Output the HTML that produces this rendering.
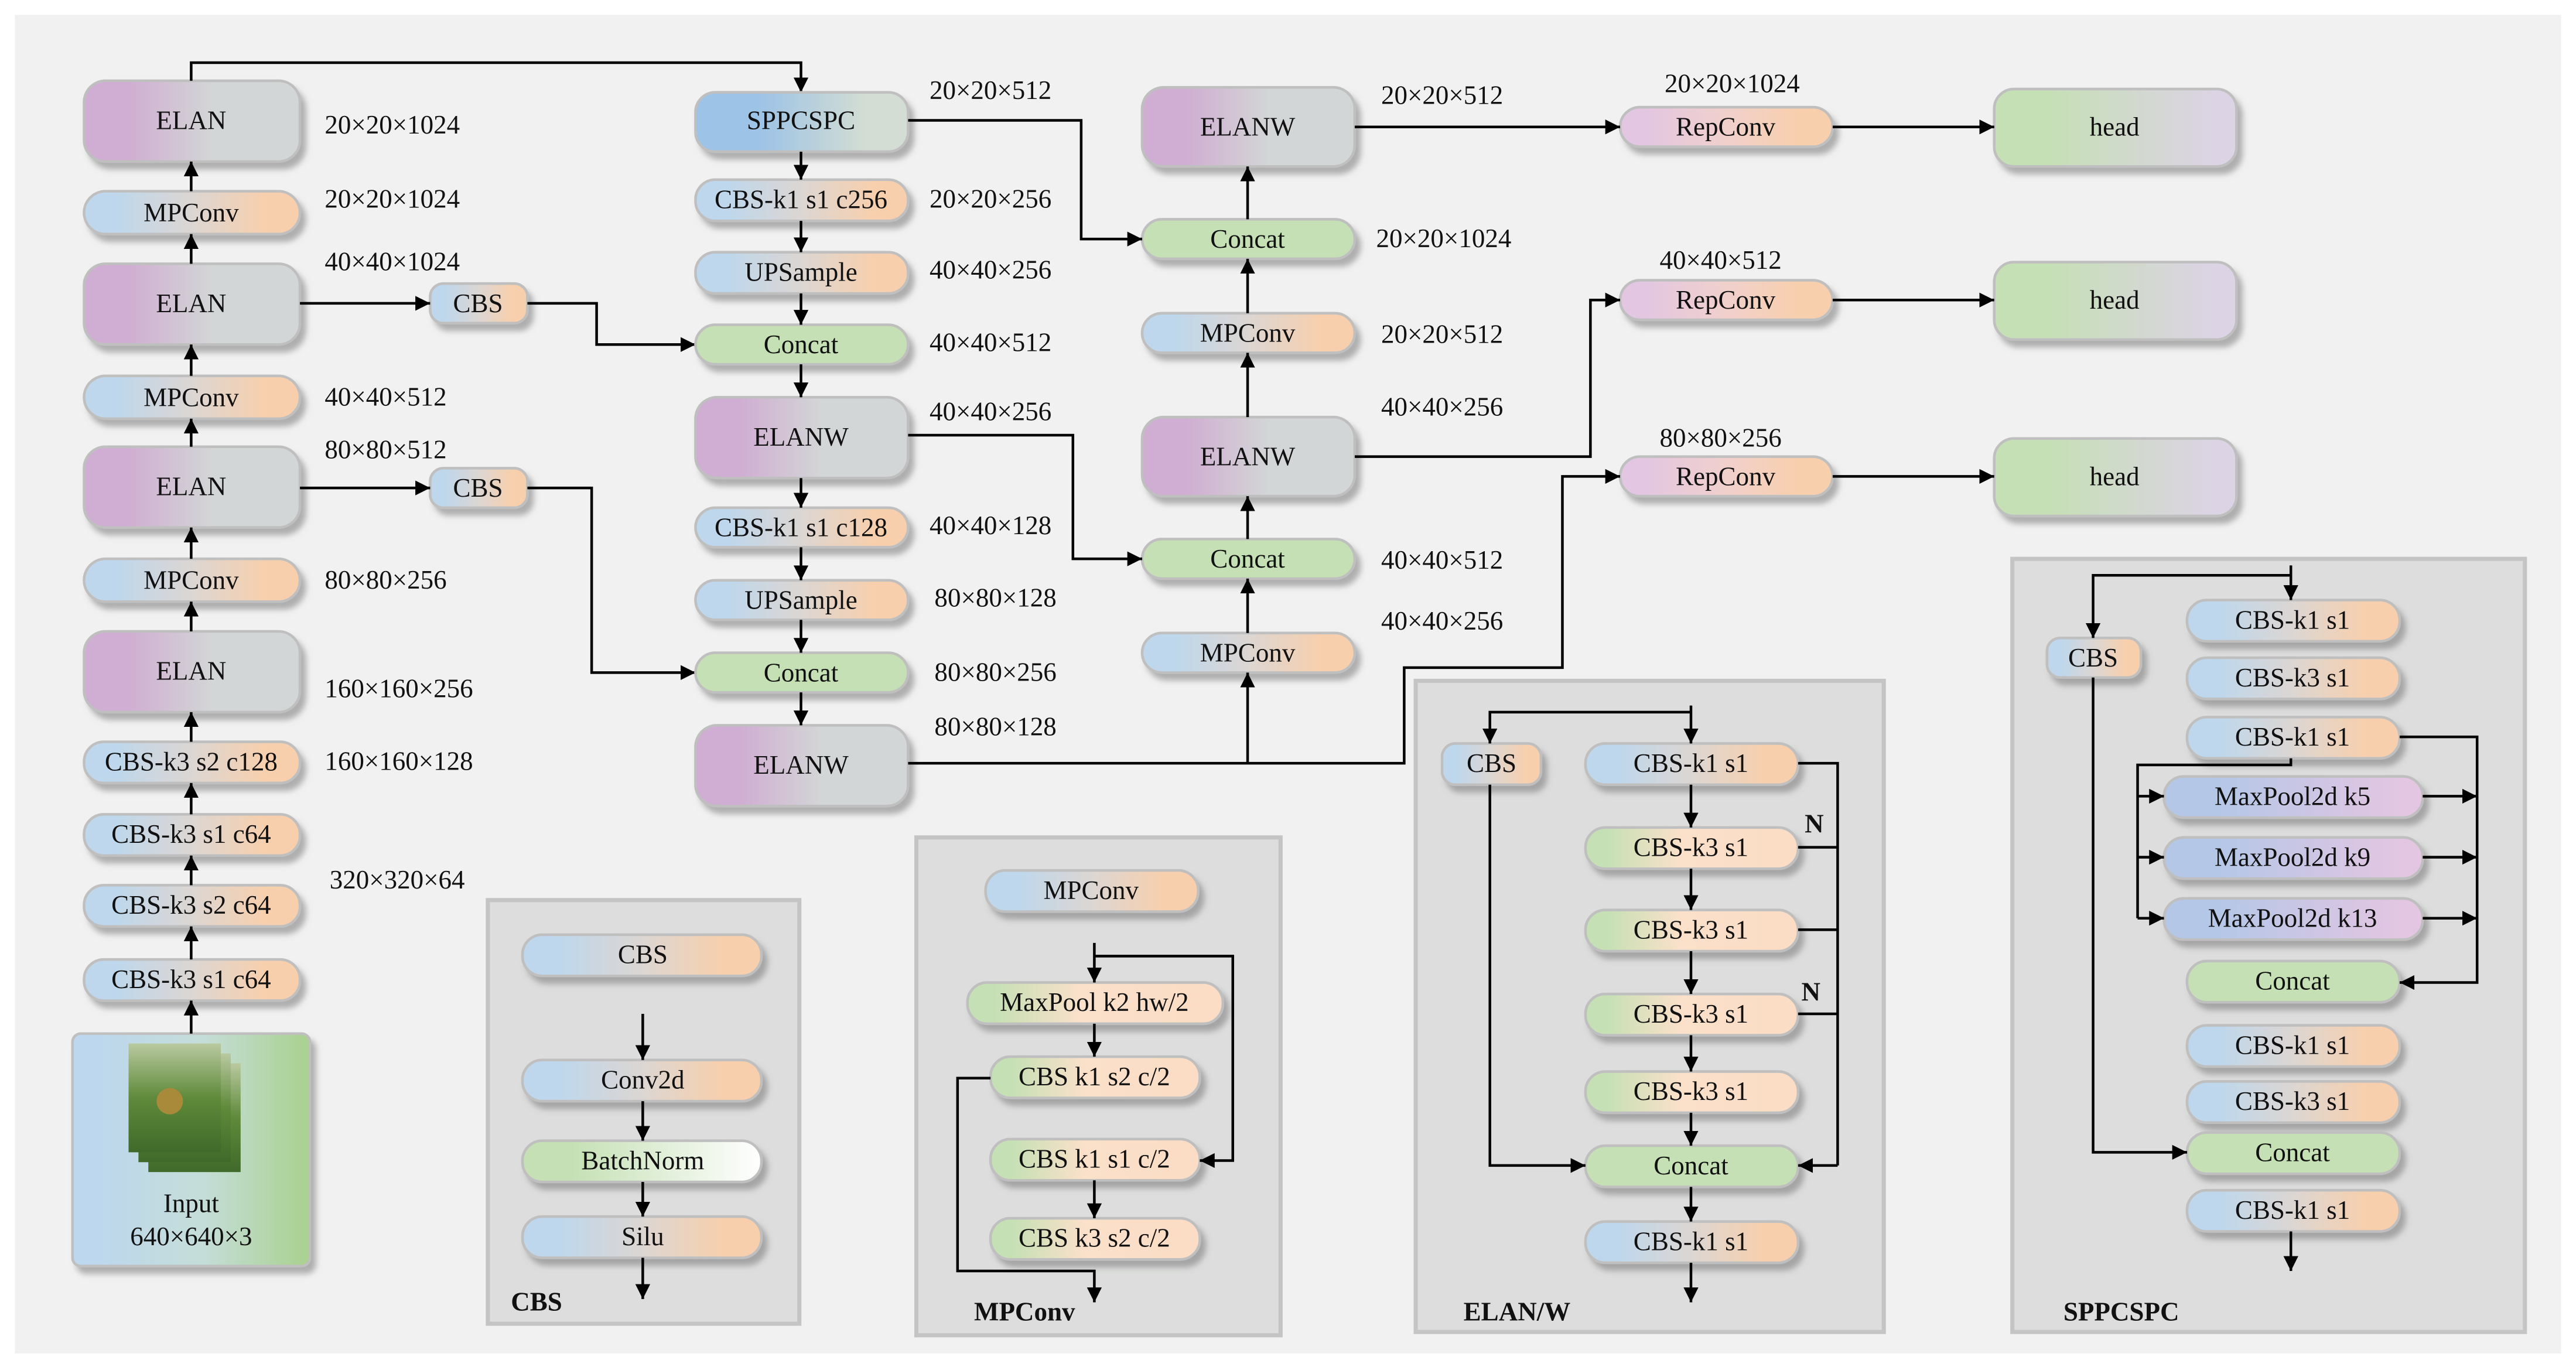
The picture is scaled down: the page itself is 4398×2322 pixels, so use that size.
<!DOCTYPE html>
<html><head><meta charset="utf-8"><style>
html,body{margin:0;padding:0;background:#fff;width:4398px;height:2322px;overflow:hidden}
svg{display:block}
text{font-family:"Liberation Serif",serif;font-size:16px;fill:#111}
.n text{text-anchor:middle;dominant-baseline:central}
.n rect{stroke:#bfbfbf;stroke-width:1.6;filter:url(#sh)}
.l{font-size:15px}
.b{font-weight:bold;font-size:16px}
.w{fill:none;stroke:#000;stroke-width:1.6}
.a{fill:none;stroke:#000;stroke-width:1.6;marker-end:url(#ar)}
.p{fill:#dcdddc;stroke:#c4c4c4;stroke-width:2.5}
</style></head><body>
<svg width="4398" height="2322" viewBox="0 0 1563 825" preserveAspectRatio="none" xmlns="http://www.w3.org/2000/svg">
<defs>
<filter id="sh" x="-20%" y="-30%" width="150%" height="180%"><feDropShadow dx="3" dy="4" stdDeviation="1.8" flood-color="#777" flood-opacity="0.55"/></filter>
<marker id="ar" viewBox="0 0 10 10" refX="10" refY="5" markerWidth="9" markerHeight="9" markerUnits="userSpaceOnUse" orient="auto"><path d="M0,0L10,5L0,10z" fill="#000"/></marker>
<linearGradient id="gE"><stop offset="0.2" stop-color="#d0add2"/><stop offset="0.6" stop-color="#d3d6d6"/></linearGradient>
<linearGradient id="gC"><stop offset="0.15" stop-color="#bed7ec"/><stop offset="0.5" stop-color="#dcd6d2"/><stop offset="0.85" stop-color="#f8cfac"/></linearGradient>
<linearGradient id="gR"><stop offset="0.1" stop-color="#e2c6e2"/><stop offset="0.5" stop-color="#f1d0cc"/><stop offset="0.85" stop-color="#f8cfac"/></linearGradient>
<linearGradient id="gS"><stop offset="0.3" stop-color="#9dc3e6"/><stop offset="0.8" stop-color="#d3ddd3"/></linearGradient>
<linearGradient id="gG"><stop offset="0" stop-color="#c5e0b4"/><stop offset="1" stop-color="#c5e0b4"/></linearGradient>
<linearGradient id="gGP"><stop offset="0.1" stop-color="#c5e0b4"/><stop offset="0.45" stop-color="#fbe0ca"/><stop offset="1" stop-color="#fbdcc4"/></linearGradient>
<linearGradient id="gM"><stop offset="0.2" stop-color="#b4c7e7"/><stop offset="0.9" stop-color="#e2c6e2"/></linearGradient>
<linearGradient id="gH"><stop offset="0.2" stop-color="#c5e0b4"/><stop offset="0.9" stop-color="#dcd3e4"/></linearGradient>
<linearGradient id="gB"><stop offset="0.2" stop-color="#c5e0b4"/><stop offset="1" stop-color="#ffffff"/></linearGradient>
<linearGradient id="gI"><stop offset="0.1" stop-color="#bdd7ee"/><stop offset="0.55" stop-color="#c5ddd8"/><stop offset="1" stop-color="#a9d18e"/></linearGradient>
<linearGradient id="gT" x1="0" y1="0" x2="0" y2="1"><stop offset="0" stop-color="#b9c9a0"/><stop offset="0.5" stop-color="#5f8a3a"/><stop offset="1" stop-color="#3f6a2a"/></linearGradient>
</defs>
<rect x="9" y="9" width="1545" height="812" fill="#f1f1f1"/>

<!-- left column -->
<g class="n">
<rect x="51" y="49" width="131" height="49" rx="13" fill="url(#gE)"/><text x="116" y="73">ELAN</text>
<rect x="51" y="116" width="131" height="26" rx="13" fill="url(#gC)"/><text x="116" y="129">MPConv</text>
<rect x="51" y="160" width="131" height="49" rx="13" fill="url(#gE)"/><text x="116" y="184">ELAN</text>
<rect x="51" y="228" width="131" height="26" rx="13" fill="url(#gC)"/><text x="116" y="241">MPConv</text>
<rect x="51" y="271" width="131" height="49" rx="13" fill="url(#gE)"/><text x="116" y="295">ELAN</text>
<rect x="51" y="339" width="131" height="26" rx="13" fill="url(#gC)"/><text x="116" y="352">MPConv</text>
<rect x="51" y="383" width="131" height="49" rx="13" fill="url(#gE)"/><text x="116" y="407">ELAN</text>
<rect x="51" y="450" width="131" height="25" rx="12" fill="url(#gC)"/><text x="116" y="462">CBS-k3 s2 c128</text>
<rect x="51" y="494" width="131" height="25" rx="12" fill="url(#gC)"/><text x="116" y="506">CBS-k3 s1 c64</text>
<rect x="51" y="537" width="131" height="25" rx="12" fill="url(#gC)"/><text x="116" y="549">CBS-k3 s2 c64</text>
<rect x="51" y="582" width="131" height="25" rx="12" fill="url(#gC)"/><text x="116" y="594">CBS-k3 s1 c64</text>
<rect x="44" y="627" width="144" height="141" rx="5" fill="url(#gI)"/><text x="116" y="730">Input</text><text x="116" y="750">640×640×3</text>
<rect x="261" y="172" width="59" height="24" rx="8" fill="url(#gC)"/><text x="290" y="184">CBS</text>
<rect x="261" y="284" width="59" height="24" rx="8" fill="url(#gC)"/><text x="290" y="296">CBS</text>
</g>
<rect x="90" y="645" width="56" height="66" fill="url(#gT)"/>
<rect x="84" y="639" width="56" height="66" fill="url(#gT)"/>
<rect x="78" y="633" width="56" height="66" fill="url(#gT)"/>
<circle cx="103" cy="668" r="8" fill="#a88a3a"/>
<path class="a" d="M116,116V98"/><path class="a" d="M116,160V142"/><path class="a" d="M116,228V209"/><path class="a" d="M116,271V254"/>
<path class="a" d="M116,339V320"/><path class="a" d="M116,383V365"/><path class="a" d="M116,450V432"/><path class="a" d="M116,494V475"/>
<path class="a" d="M116,537V519"/><path class="a" d="M116,582V562"/><path class="a" d="M116,627V607"/>
<path class="a" d="M116,49V38H486V56"/><path class="a" d="M182,184H261"/><path class="a" d="M182,296H261"/>
<path class="a" d="M320,184H362V209H422"/><path class="a" d="M320,296H359V408H422"/>
<g class="l">
<text x="197" y="81">20×20×1024</text><text x="197" y="126">20×20×1024</text><text x="197" y="164">40×40×1024</text>
<text x="197" y="246">40×40×512</text><text x="197" y="278">80×80×512</text><text x="197" y="357">80×80×256</text>
<text x="197" y="423">160×160×256</text><text x="197" y="467">160×160×128</text><text x="200" y="539">320×320×64</text>
</g>

<!-- middle column -->
<g class="n">
<rect x="422" y="56" width="129" height="36" rx="12" fill="url(#gS)"/><text x="486" y="73">SPPCSPC</text>
<rect x="422" y="109" width="129" height="25" rx="12" fill="url(#gC)"/><text x="486" y="121">CBS-k1 s1 c256</text>
<rect x="422" y="153" width="129" height="25" rx="12" fill="url(#gC)"/><text x="486" y="165">UPSample</text>
<rect x="422" y="197" width="129" height="24" rx="12" fill="url(#gG)"/><text x="486" y="209">Concat</text>
<rect x="422" y="241" width="129" height="49" rx="13" fill="url(#gE)"/><text x="486" y="265">ELANW</text>
<rect x="422" y="308" width="129" height="24" rx="12" fill="url(#gC)"/><text x="486" y="320">CBS-k1 s1 c128</text>
<rect x="422" y="352" width="129" height="24" rx="12" fill="url(#gC)"/><text x="486" y="364">UPSample</text>
<rect x="422" y="396" width="129" height="24" rx="12" fill="url(#gG)"/><text x="486" y="408">Concat</text>
<rect x="422" y="440" width="129" height="49" rx="13" fill="url(#gE)"/><text x="486" y="464">ELANW</text>
</g>
<path class="a" d="M486,92V109"/><path class="a" d="M486,134V153"/><path class="a" d="M486,178V197"/><path class="a" d="M486,221V241"/>
<path class="a" d="M486,290V308"/><path class="a" d="M486,332V352"/><path class="a" d="M486,376V396"/><path class="a" d="M486,420V440"/>
<g class="l">
<text x="564" y="60">20×20×512</text><text x="564" y="126">20×20×256</text><text x="564" y="169">40×40×256</text>
<text x="564" y="213">40×40×512</text><text x="564" y="255">40×40×256</text><text x="564" y="324">40×40×128</text>
<text x="567" y="368">80×80×128</text><text x="567" y="413">80×80×256</text><text x="567" y="446">80×80×128</text>
</g>

<!-- third column -->
<g class="n">
<rect x="693" y="53" width="129" height="48" rx="13" fill="url(#gE)"/><text x="757" y="77">ELANW</text>
<rect x="693" y="133" width="129" height="24" rx="12" fill="url(#gG)"/><text x="757" y="145">Concat</text>
<rect x="693" y="190" width="129" height="24" rx="12" fill="url(#gC)"/><text x="757" y="202">MPConv</text>
<rect x="693" y="253" width="129" height="48" rx="13" fill="url(#gE)"/><text x="757" y="277">ELANW</text>
<rect x="693" y="327" width="129" height="24" rx="12" fill="url(#gG)"/><text x="757" y="339">Concat</text>
<rect x="693" y="384" width="129" height="24" rx="12" fill="url(#gC)"/><text x="757" y="396">MPConv</text>
<rect x="983" y="65" width="129" height="24" rx="12" fill="url(#gR)"/><text x="1047" y="77">RepConv</text>
<rect x="983" y="170" width="129" height="24" rx="12" fill="url(#gR)"/><text x="1047" y="182">RepConv</text>
<rect x="983" y="277" width="129" height="24" rx="12" fill="url(#gR)"/><text x="1047" y="289">RepConv</text>
<rect x="1210" y="54" width="147" height="47" rx="12" fill="url(#gH)"/><text x="1283" y="77">head</text>
<rect x="1210" y="159" width="147" height="47" rx="12" fill="url(#gH)"/><text x="1283" y="182">head</text>
<rect x="1210" y="266" width="147" height="47" rx="12" fill="url(#gH)"/><text x="1283" y="289">head</text>
</g>
<path class="a" d="M551,73H656V145H693"/><path class="a" d="M551,264H651V339H693"/>
<path class="a" d="M757,463V408"/><path class="a" d="M757,384V351"/><path class="a" d="M757,327V301"/>
<path class="a" d="M757,253V214"/><path class="a" d="M757,190V157"/><path class="a" d="M757,133V101"/>
<path class="a" d="M551,463H852V405H948V289H983"/><path class="a" d="M822,77H983"/><path class="a" d="M822,277H965V182H983"/>
<path class="a" d="M1112,77H1210"/><path class="a" d="M1112,182H1210"/><path class="a" d="M1112,289H1210"/>
<g class="l">
<text x="838" y="63">20×20×512</text><text x="835" y="150">20×20×1024</text><text x="838" y="208">20×20×512</text>
<text x="838" y="252">40×40×256</text><text x="838" y="345">40×40×512</text><text x="838" y="382">40×40×256</text>
<text x="1010" y="56">20×20×1024</text><text x="1007" y="163">40×40×512</text><text x="1007" y="271">80×80×256</text>
</g>

<!-- CBS panel -->
<rect class="p" x="296" y="546" width="189" height="257"/>
<g class="n">
<rect x="317" y="567" width="145" height="25" rx="12" fill="url(#gC)"/><text x="390" y="579">CBS</text>
<rect x="317" y="643" width="145" height="25" rx="12" fill="url(#gC)"/><text x="390" y="655">Conv2d</text>
<rect x="317" y="692" width="145" height="25" rx="12" fill="url(#gB)"/><text x="390" y="704">BatchNorm</text>
<rect x="317" y="738" width="145" height="25" rx="12" fill="url(#gC)"/><text x="390" y="750">Silu</text>
</g>
<path class="a" d="M390,615V643"/><path class="a" d="M390,668V692"/><path class="a" d="M390,717V738"/><path class="a" d="M390,763V788"/>
<text class="b" x="310" y="795">CBS</text>

<!-- MPConv panel -->
<rect class="p" x="556" y="508" width="221" height="302"/>
<g class="n">
<rect x="598" y="528" width="129" height="25" rx="12" fill="url(#gC)"/><text x="662" y="540">MPConv</text>
<rect x="587" y="596" width="155" height="25" rx="12" fill="url(#gGP)"/><text x="664" y="608">MaxPool k2 hw/2</text>
<rect x="601" y="641" width="127" height="25" rx="12" fill="url(#gGP)"/><text x="664" y="653">CBS k1 s2 c/2</text>
<rect x="601" y="691" width="127" height="25" rx="12" fill="url(#gGP)"/><text x="664" y="703">CBS k1 s1 c/2</text>
<rect x="601" y="739" width="127" height="25" rx="12" fill="url(#gGP)"/><text x="664" y="751">CBS k3 s2 c/2</text>
</g>
<path class="a" d="M664,572V596"/><path class="a" d="M664,621V641"/><path class="a" d="M664,716V739"/>
<path class="a" d="M664,580H748V704H728"/><path class="a" d="M601,654H581V771H664V790"/>
<text class="b" x="591" y="801">MPConv</text>

<!-- ELAN/W panel -->
<rect class="p" x="859" y="413" width="284" height="395"/>
<g class="n">
<rect x="875" y="451" width="60" height="25" rx="8" fill="url(#gC)"/><text x="905" y="463">CBS</text>
<rect x="962" y="451" width="129" height="25" rx="12" fill="url(#gC)"/><text x="1026" y="463">CBS-k1 s1</text>
<rect x="962" y="502" width="129" height="25" rx="12" fill="url(#gGP)"/><text x="1026" y="514">CBS-k3 s1</text>
<rect x="962" y="552" width="129" height="25" rx="12" fill="url(#gGP)"/><text x="1026" y="564">CBS-k3 s1</text>
<rect x="962" y="603" width="129" height="25" rx="12" fill="url(#gGP)"/><text x="1026" y="615">CBS-k3 s1</text>
<rect x="962" y="650" width="129" height="25" rx="12" fill="url(#gGP)"/><text x="1026" y="662">CBS-k3 s1</text>
<rect x="962" y="695" width="129" height="25" rx="12" fill="url(#gG)"/><text x="1026" y="707">Concat</text>
<rect x="962" y="741" width="129" height="25" rx="12" fill="url(#gC)"/><text x="1026" y="753">CBS-k1 s1</text>
</g>
<path class="a" d="M1026,428V451"/><path class="a" d="M1026,432H904V451"/><path class="a" d="M1026,476V502"/>
<path class="a" d="M1026,527V552"/><path class="a" d="M1026,577V603"/><path class="a" d="M1026,628V650"/>
<path class="a" d="M1026,675V695"/><path class="a" d="M1026,720V741"/><path class="a" d="M1026,766V790"/><path class="a" d="M904,476V707H962"/>
<path class="w" d="M1091,463H1115V707M1091,514H1115M1091,564H1115M1091,615H1115"/>
<path class="a" d="M1115,707H1091"/>
<text class="b" x="1095" y="505">N</text><text class="b" x="1093" y="607">N</text>
<text class="b" x="888" y="801">ELAN/W</text>

<!-- SPPCSPC panel -->
<rect class="p" x="1221" y="339" width="311" height="469"/>
<g class="n">
<rect x="1242" y="387" width="57" height="24" rx="8" fill="url(#gC)"/><text x="1270" y="399">CBS</text>
<rect x="1327" y="364" width="129" height="25" rx="12" fill="url(#gC)"/><text x="1391" y="376">CBS-k1 s1</text>
<rect x="1327" y="399" width="129" height="25" rx="12" fill="url(#gC)"/><text x="1391" y="411">CBS-k3 s1</text>
<rect x="1327" y="435" width="129" height="25" rx="12" fill="url(#gC)"/><text x="1391" y="447">CBS-k1 s1</text>
<rect x="1313" y="471" width="157" height="25" rx="12" fill="url(#gM)"/><text x="1391" y="483">MaxPool2d k5</text>
<rect x="1313" y="508" width="157" height="25" rx="12" fill="url(#gM)"/><text x="1391" y="520">MaxPool2d k9</text>
<rect x="1313" y="545" width="157" height="25" rx="12" fill="url(#gM)"/><text x="1391" y="557">MaxPool2d k13</text>
<rect x="1327" y="583" width="129" height="25" rx="12" fill="url(#gG)"/><text x="1391" y="595">Concat</text>
<rect x="1327" y="622" width="129" height="25" rx="12" fill="url(#gC)"/><text x="1391" y="634">CBS-k1 s1</text>
<rect x="1327" y="656" width="129" height="25" rx="12" fill="url(#gC)"/><text x="1391" y="668">CBS-k3 s1</text>
<rect x="1327" y="687" width="129" height="25" rx="12" fill="url(#gG)"/><text x="1391" y="699">Concat</text>
<rect x="1327" y="722" width="129" height="25" rx="12" fill="url(#gC)"/><text x="1391" y="734">CBS-k1 s1</text>
</g>
<path class="a" d="M1390,343V364"/><path class="a" d="M1390,349H1270V387"/><path class="a" d="M1390,747V771"/>
<path class="a" d="M1270,411V699H1327"/><path class="a" d="M1456,447H1503V596H1456"/>
<path class="w" d="M1390,460V464H1297V557"/>
<path class="a" d="M1297,483H1313"/><path class="a" d="M1297,520H1313"/><path class="a" d="M1297,557H1313"/>
<path class="a" d="M1470,483H1503"/><path class="a" d="M1470,520H1503"/><path class="a" d="M1470,557H1503"/>
<text class="b" x="1252" y="801">SPPCSPC</text>
</svg>
</body></html>
